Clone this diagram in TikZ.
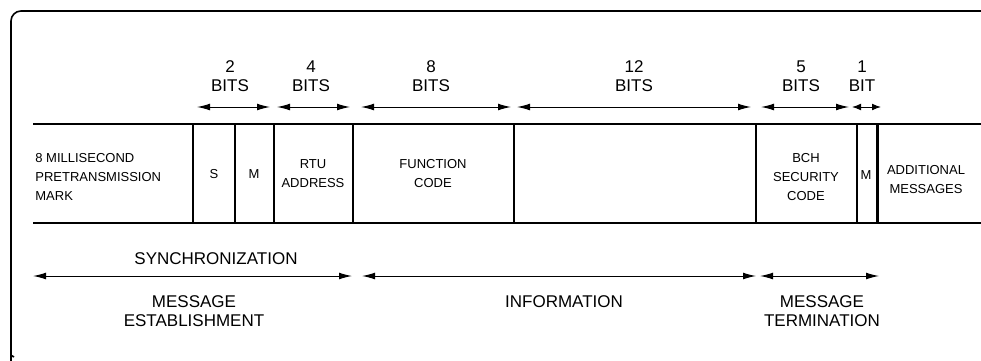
\documentclass[tikz,border=0pt]{standalone}
\usepackage{fontspec}
\setmainfont{Liberation Sans}
\usepackage{tikz}
\usetikzlibrary{arrows.meta,positioning,calc}
\tikzstyle{field} = [inner sep=0pt, align=center, font=\fontsize{6.5}{9.5}\selectfont]
\tikzstyle{bitlabel} = [inner sep=0pt, align=center, font=\fontsize{8.5}{9.5}\selectfont]
\tikzstyle{dimline} = [draw, line width=0.5pt, {Latex[length=6.5pt,width=3.4pt]}-{Latex[length=6.5pt,width=3.4pt]}]
\tikzstyle{divider} = [draw, line width=1pt]
\tikzstyle{frame} = [draw, line width=0.8pt, rounded corners=5pt]

\begin{document}
\begin{tikzpicture}[x=0.5pt, y=-0.5pt]
        \useasboundingbox (0,0) rectangle (981,360);
        % Frame
        \draw [frame] (981,11) -- (11,11) -- (11,352) .. controls (11,355) .. (14,357);

        % Message strip
        \draw [line width=1.2pt] (33,124) -- (981,124);
        \draw [line width=1.2pt] (33,223) -- (981,223);
        \path [divider] (193,124) -- (193,223);
        \path [divider] (235,124) -- (235,223);
        \path [divider] (274,124) -- (274,223);
        \path [divider] (353,124) -- (353,223);
        \path [divider] (514,124) -- (514,223);
        \path [divider] (756,124) -- (756,223);
        \path [divider] (857,124) -- (857,223);
        \path [divider, line width=1.5pt] (877,124) -- (877,223);

        % Fields
        \node [field, anchor=west, align=left] (pmark) at (35,177) {8 MILLISECOND\\PRETRANSMISSION\\MARK};
        \node [field] (sfield) at (214,174) {S};
        \node [field] (mfield) at (254,174) {M};
        \node [field] (rtu) at (313,174) {RTU\\ADDRESS};
        \node [field] (func) at (433,174) {FUNCTION\\CODE};
        \node [field] (bch) at (806,177) {BCH\\SECURITY\\CODE};
        \node [field] (mbit) at (866,175) {M};
        \node [field] (addl) at (926,180) {ADDITIONAL\\MESSAGES};

        % Bit counts
        \node [bitlabel] (b2) at (230,76) {2\\BITS};
        \node [bitlabel] (b4) at (311,76) {4\\BITS};
        \node [bitlabel] (b8) at (431,76) {8\\BITS};
        \node [bitlabel] (b12) at (634,76) {12\\BITS};
        \node [bitlabel] (b5) at (801,76) {5\\BITS};
        \node [bitlabel] (b1) at (862,76) {1\\BIT};

        \coordinate (b2l) at (197,107);  \coordinate (b2r) at (270,107);
        \coordinate (b4l) at (277,107);  \coordinate (b4r) at (350,107);
        \coordinate (b8l) at (361,107);  \coordinate (b8r) at (511,107);
        \coordinate (b12l) at (517,107); \coordinate (b12r) at (751,107);
        \coordinate (b5l) at (761,107);  \coordinate (b5r) at (849,107);
        \coordinate (b1l) at (852,107);  \coordinate (b1r) at (881,107);

        \path [dimline] (b2l) -- (b2r);
        \path [dimline] (b4l) -- (b4r);
        \path [dimline] (b8l) -- (b8r);
        \path [dimline] (b12l) -- (b12r);
        \path [dimline] (b5l) -- (b5r);
        \path [draw, line width=0.5pt, {Latex[length=4.5pt,width=3.4pt]}-{Latex[length=4.5pt,width=3.4pt]}] (b1l) -- (b1r);

        % Message phases
        \node [bitlabel] (sync) at (216,259) {SYNCHRONIZATION};
        \node [bitlabel] (estab) at (194,311) {MESSAGE\\ESTABLISHMENT};
        \node [bitlabel] (info) at (564,302) {INFORMATION};
        \node [bitlabel] (term) at (822,311) {MESSAGE\\TERMINATION};

        \coordinate (syncl) at (33,276);  \coordinate (syncr) at (352,276);
        \coordinate (infol) at (362,276); \coordinate (infor) at (756,276);
        \coordinate (terml) at (760,276); \coordinate (termr) at (879,276);

        \path [dimline] (syncl) -- (syncr);
        \path [dimline] (infol) -- (infor);
        \path [dimline] (terml) -- (termr);
    \end{tikzpicture}
\end{document}
